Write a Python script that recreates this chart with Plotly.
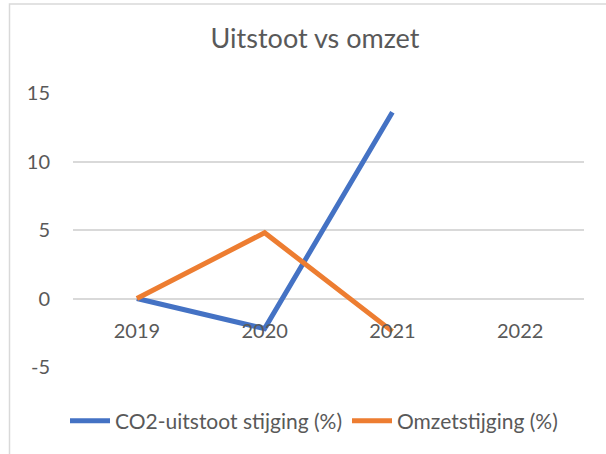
import plotly.graph_objects as go

years = ["2019", "2020", "2021", "2022"]
co2_rise = [0, -2.2, 13.6, None]
revenue_rise = [0, 4.8, -2.4, None]
y_ticks = [-5, 0, 5, 10, 15]
y_tick_labels = ["-5", "0", "5", "10", "15"]

W, H = 606, 454
ml, mr, mt, mb = 73, 22, 93, 87
pw = W - ml - mr
ph = H - mt - mb

FONT = "Lato, 'Open Sans', sans-serif"
TXT = "#595959"

fig = go.Figure()
fig.add_trace(go.Scatter(x=years, y=co2_rise, mode="lines", name="CO2-uitstoot stijging (%)",
                         line=dict(color="#4472C4", width=5)))
fig.add_trace(go.Scatter(x=years, y=revenue_rise, mode="lines", name="Omzetstijging (%)",
                         line=dict(color="#ED7D31", width=5)))

# chart frame
fig.add_shape(type="rect", xref="paper", yref="paper",
              x0=(9.5 - ml) / pw, x1=(W + 40 - ml) / pw,
              y0=(H - mb - (H + 40)) / ph, y1=(H - mb - 4) / ph,
              line=dict(color="#d9d9d9", width=1.5), fillcolor="rgba(0,0,0,0)", layer="below")

fig.update_layout(
    width=W, height=H,
    margin=dict(l=ml, r=mr, t=mt, b=mb, autoexpand=False),
    paper_bgcolor="white", plot_bgcolor="white",
    font=dict(family=FONT, color=TXT, size=20),
    title=dict(text="Uitstoot vs omzet", x=315 / W, xanchor="center", xref="container",
               y=1 - 39 / H, yanchor="middle", yref="container",
               font=dict(size=27, color=TXT, family=FONT)),
    showlegend=True,
    legend=dict(orientation="h", xref="container", yref="container",
                x=314 / W, xanchor="center", y=1 - 421 / H, yanchor="middle",
                font=dict(size=21, color=TXT, family=FONT), bgcolor="rgba(0,0,0,0)",
                itemwidth=40),
    xaxis=dict(type="category", range=[-0.5, 3.5], showgrid=False, zeroline=False,
               showline=False, anchor="free", position=(5 / 20),
               ticks="outside", ticklen=14, tickcolor="rgba(0,0,0,0)",
               tickfont=dict(size=20, color=TXT, family=FONT)),
    yaxis=dict(range=[-5, 15], tickvals=y_ticks, ticktext=y_tick_labels,
               showgrid=True, gridcolor="#d9d9d9", gridwidth=1.5,
               zeroline=False, showline=False, ticks="outside", ticklen=18,
               tickcolor="rgba(0,0,0,0)", tickfont=dict(size=20, color=TXT, family=FONT)),
)

fig.write_html("out.html", config={"displayModeBar": False},
               post_script="document.body.style.margin='0';document.body.style.overflow='hidden';")
